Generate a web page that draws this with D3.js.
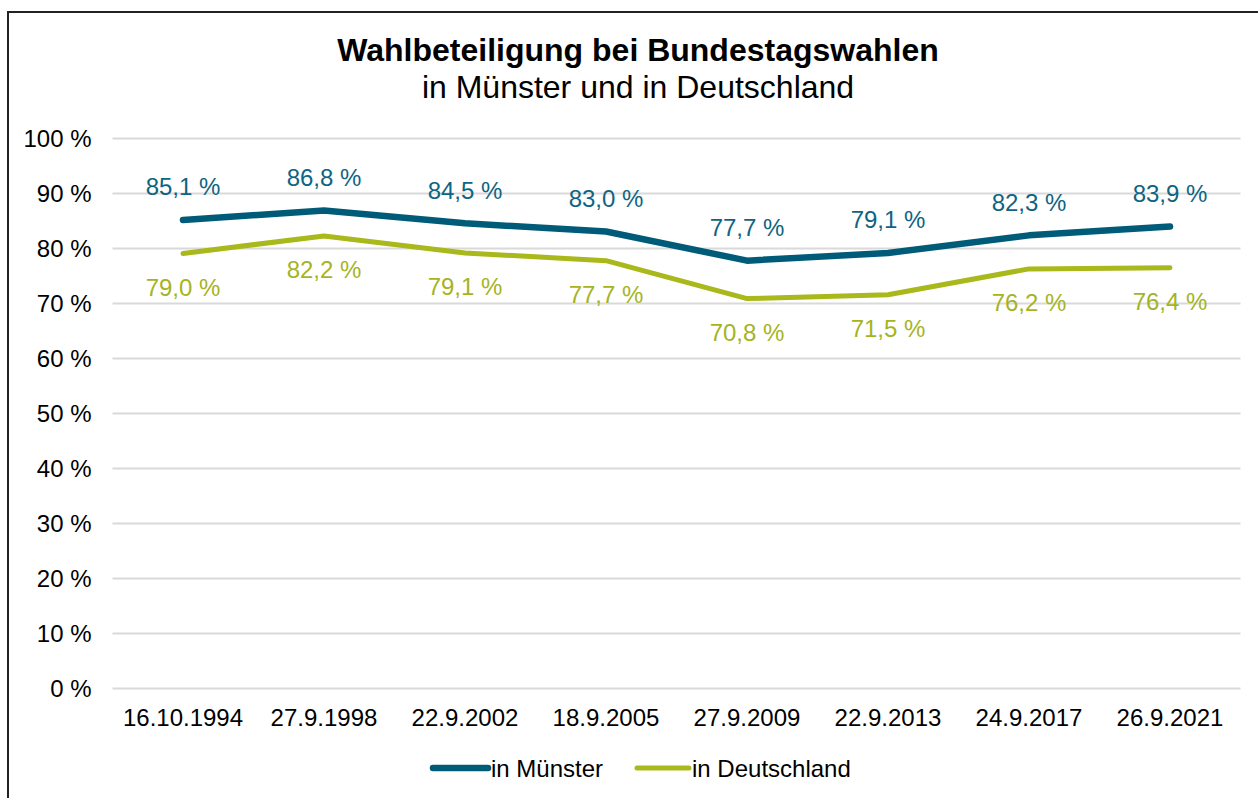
<!DOCTYPE html>
<html><head><meta charset="utf-8">
<script src="https://cdn.jsdelivr.net/npm/d3@7"></script>
<style>body{margin:0;background:#fff}svg{display:block;font-family:"Liberation Sans",Arial,sans-serif}</style>
</head><body><svg id="c" width="1258" height="798"></svg>
<script>
const categories = ["16.10.1994","27.9.1998","22.9.2002","18.9.2005","27.9.2009","22.9.2013","24.9.2017","26.9.2021"];
const muenster = [85.1, 86.8, 84.5, 83.0, 77.7, 79.1, 82.3, 83.9];
const deutschland = [79.0, 82.2, 79.1, 77.7, 70.8, 71.5, 76.2, 76.4];
const yTicks = [0,10,20,30,40,50,60,70,80,90,100];
const seriesNames = ["in Münster","in Deutschland"];

(function(){
const svg = d3.select("#c");
svg.append("rect").attr("x",8).attr("y",12).attr("width",1300).attr("height",900)
  .attr("fill","none").attr("stroke","#222").attr("stroke-width",2);

const pLeft=112.5, pRight=1240.5, pTop=138, pBottom=688;
const x = d3.scaleBand().domain(categories).range([pLeft,pRight]);
const y = d3.scaleLinear().domain([0,100]).range([pBottom,pTop]);
const fmt = v => v.toFixed(1).replace(".", ",") + " %";

svg.append("text").attr("x",638).attr("y",61).attr("text-anchor","middle")
  .attr("font-size",32).attr("font-weight","bold").text("Wahlbeteiligung bei Bundestagswahlen");
svg.append("text").attr("x",638).attr("y",98).attr("text-anchor","middle")
  .attr("font-size",32).text("in Münster und in Deutschland");

const yAxis = svg.append("g").attr("transform",`translate(${pLeft},0)`)
  .call(d3.axisLeft(y).tickValues(yTicks).tickSize(-(pRight-pLeft)).tickFormat(d=>d+" %"));
yAxis.select(".domain").remove();
yAxis.selectAll(".tick line").attr("stroke","#d9d9d9").attr("stroke-width",2);
yAxis.selectAll(".tick text").attr("x",-21).attr("dy","0.35em").attr("font-size",24).attr("fill","#000").attr("font-family","Liberation Sans, Arial, sans-serif");

const xAxis = svg.append("g").attr("transform",`translate(0,${pBottom})`)
  .call(d3.axisBottom(x).tickSize(0));
xAxis.select(".domain").remove();
xAxis.selectAll(".tick text").attr("dy",0).attr("y",38).attr("font-size",24).attr("fill","#000").attr("font-family","Liberation Sans, Arial, sans-serif");

const cx = d => x(d) + x.bandwidth()/2;
const series = [
  {name:seriesNames[0], vals:muenster, color:"#005b78", label:"#0e6482", w:6.5, dy:-24.5},
  {name:seriesNames[1], vals:deutschland, color:"#a9b81b", label:"#a5b41f", w:5, dy:42}
];
const line = d3.line().x(d=>cx(d.c)).y(d=>y(d.v));
series.forEach(s=>{
  const pts = categories.map((c,i)=>({c,v:s.vals[i]}));
  svg.append("path").datum(pts).attr("d",line).attr("fill","none")
    .attr("stroke",s.color).attr("stroke-width",s.w).attr("stroke-linecap","round").attr("stroke-linejoin","round");
  svg.append("g").selectAll("text").data(pts).join("text")
    .attr("x",d=>cx(d.c)).attr("y",d=>y(d.v)+s.dy).attr("text-anchor","middle")
    .attr("font-size",24).attr("fill",s.label).text(d=>fmt(d.v));
});

const legend = [{x:433, tx:491}, {x:637, tx:692}];
series.forEach((s,i)=>{
  svg.append("line").attr("x1",legend[i].x).attr("x2",legend[i].tx-3).attr("y1",768).attr("y2",768)
    .attr("stroke",s.color).attr("stroke-width",s.w).attr("stroke-linecap","round");
  svg.append("text").attr("x",legend[i].tx).attr("y",776.5).attr("font-size",24).attr("fill","#000").text(s.name);
});
})();
</script></body></html>
